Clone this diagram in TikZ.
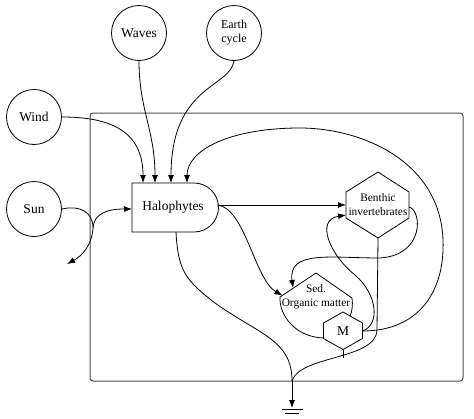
\documentclass[tikz,border=0pt]{standalone}
\usepackage{fontspec}
\setmainfont{Liberation Serif}
\usetikzlibrary{arrows.meta}
\begin{document}
\begin{tikzpicture}[x=1pt,y=-1pt,
  src/.style={draw, circle, minimum size=55pt, inner sep=0pt, line width=0.8pt},
  ln/.style={line width=0.8pt},
  arr/.style={ln, -{Latex[length=8pt,width=6pt]}},
  big/.style={font=\fontsize{13.5}{15}\selectfont},
  small/.style={font=\fontsize{11.4}{14.5}\selectfont, align=center, inner sep=0pt}]
\useasboundingbox (0,0) rectangle (474,418);
% system boundary
\node[draw=black!70, line width=1pt, rounded corners=3pt, minimum width=373pt, minimum height=268pt, inner sep=0pt] (sys) at (276.5,247) {};
% sources
\node[src,big] (waves) at (139,33) {Waves};
\node[src,small,font=\fontsize{12}{14}\selectfont] (earth) at (234,33) {Earth\\cycle};
\node[src,big] (wind) at (34,117) {Wind};
\node[src,big] (sun) at (34,209) {Sun};
% halophytes (producer)
\draw[ln] (132,183) -- (194,183) arc[start angle=90,end angle=-90,radius=24.5pt] -- (132,232) -- cycle;
\node[big] (halo) at (173,207.5) {Halophytes};
% benthic invertebrates
\draw[ln] (378,172) -- (409,192) -- (409,218) -- (378,238) -- (346,218) -- (346,192) -- cycle;
\node[small] (benthic) at (378,204.5) {Benthic\\invertebrates};
% M
\draw[ln] (343,312) -- (362.5,323) -- (362.5,338.5) -- (343,349.5) -- (323.5,338.5) -- (323.5,323) -- cycle;
\node[big] (m) at (343,331) {M};
% sediment organic matter
\draw[ln] (323.5,338) .. controls (295,337) and (279,315) .. (280,297) -- (316,273) -- (352,298) .. controls (353,305) and (352,312) .. (350,316);
\node[small] (sed) at (316,297) {Sed.\\Organic matter};
% anchor coordinates
\coordinate (haloN1) at (143,183);
\coordinate (haloN2) at (155,183);
\coordinate (haloN3) at (171,183);
\coordinate (haloN4) at (187,183);
\coordinate (haloW) at (132,209);
\coordinate (haloE) at (217.5,205);
\coordinate (haloS) at (176,232);
\coordinate (benW1) at (346,205);
\coordinate (benW2) at (346,215);
\coordinate (benE) at (409,207);
\coordinate (benS) at (378,238);
\coordinate (mE) at (362.5,331);
\coordinate (mS) at (343,349.5);
\coordinate (sedA) at (282.5,295.5);
\coordinate (sedB) at (293,288);
\coordinate (sink) at (292,381);
\coordinate (ground) at (292,408);
\coordinate (sunJ) at (93,228);
\coordinate (sunOut) at (67,264);
% inflows
\draw[arr] (wind.east) .. controls (112,117) and (143,132) .. (haloN1);
\draw[arr] (waves.south) .. controls (139,110) and (155,130) .. (haloN2);
\draw[arr] (earth.south) .. controls (230,88) and (171,85) .. (haloN3);
\draw[arr] (mE) .. controls (420,331) and (445,290) .. (443,240) .. controls (440,160) and (360,128) .. (300,128) .. controls (230,128) and (187,150) .. (haloN4);
% sun
\draw[ln] (sun.east) .. controls (80,205) and (93,212) .. (sunJ);
\draw[arr] (sunJ) .. controls (94,213) and (108,209) .. (haloW);
\draw[arr] (sunJ) .. controls (92,245) and (82,256) .. (sunOut);
% internal flows
\draw[arr] (haloE) -- (benW1);
\draw[arr] (haloE) .. controls (245,208) and (255,280) .. (sedA);
\draw[arr] (benE) .. controls (422,210) and (425,255) .. (380,258) .. controls (330,258) and (288,250) .. (sedB);
\draw[arr] (mE) .. controls (380,325) and (378,295) .. (355,275) .. controls (330,255) and (315,220) .. (benW2);
% heat sinks
\draw[ln] (haloS) .. controls (178,270) and (185,280) .. (215,303) .. controls (260,335) and (292,340) .. (sink);
\draw[ln] (benS) -- (377,330) .. controls (376,360) and (300,355) .. (sink);
\draw[ln] (mS) -- (343,358);
\draw[arr] (sink) -- (ground);
\coordinate (g1a) at (282,409); \coordinate (g1b) at (303,409);
\coordinate (g2a) at (285,413); \coordinate (g2b) at (299,413);
\draw[ln] (g1a) -- (g1b);
\draw[ln] (g2a) -- (g2b);
\end{tikzpicture}
\end{document}
